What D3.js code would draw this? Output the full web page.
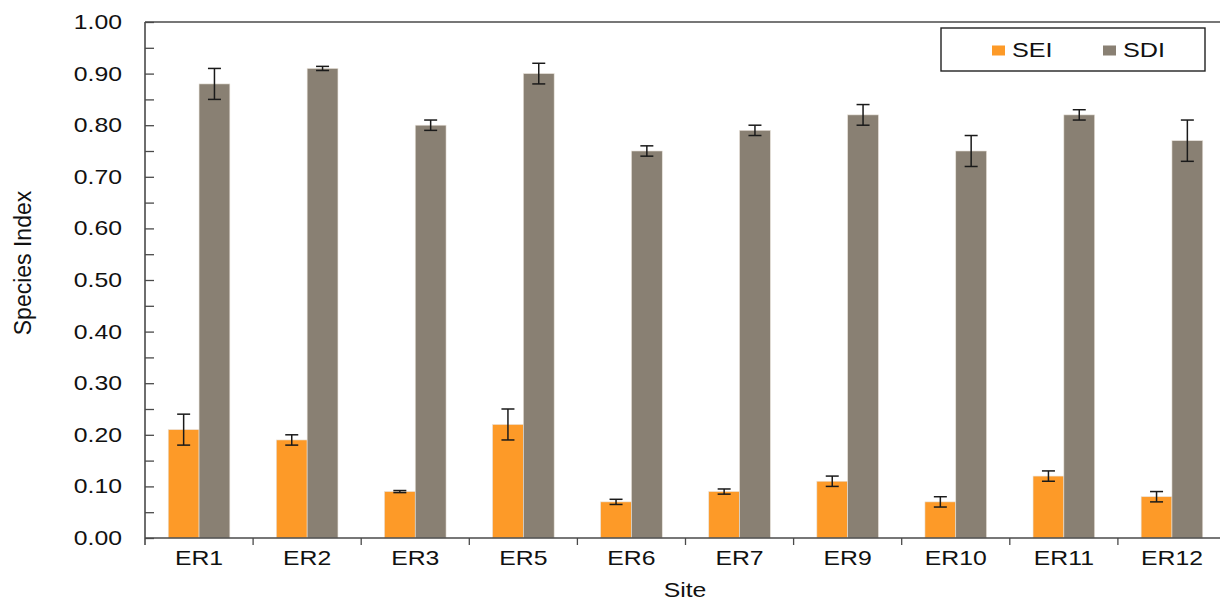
<!DOCTYPE html>
<html>
<head>
<meta charset="utf-8">
<script src="https://cdn.jsdelivr.net/npm/d3@7"></script>
<style>
  body { margin: 0; background: #fff; }
  svg { display: block; font-family: "Liberation Sans", Arial, sans-serif; }
</style>
</head>
<body>
<div id="chart"></div>
<script>
// data
const sites = ["ER1", "ER2", "ER3", "ER5", "ER6", "ER7", "ER9", "ER10", "ER11", "ER12"];
const seiValues = [0.21, 0.19, 0.09, 0.22, 0.07, 0.09, 0.11, 0.07, 0.12, 0.08];
const seiErrors = [0.03, 0.01, 0.002, 0.03, 0.005, 0.005, 0.01, 0.01, 0.01, 0.01];
const sdiValues = [0.88, 0.91, 0.80, 0.90, 0.75, 0.79, 0.82, 0.75, 0.82, 0.77];
const sdiErrors = [0.03, 0.004, 0.01, 0.02, 0.01, 0.01, 0.02, 0.03, 0.01, 0.04];
const yTicks = [0, 0.1, 0.2, 0.3, 0.4, 0.5, 0.6, 0.7, 0.8, 0.9, 1.0];
const seriesNames = ["SEI", "SDI"];

const width = 1220, height = 601;
const margin = { top: 22, right: -6, bottom: 63, left: 145 };
const stretch = 1.24; // text in the reference is drawn a bit wide

const colors = { SEI: "#fd9a28", SDI: "#898073" };
const axisColor = "#4a4a4a";
const textColor = "#111";

const svg = d3.select("#chart").append("svg")
  .attr("width", width)
  .attr("height", height);

const x = d3.scaleBand()
  .domain(sites)
  .range([margin.left, width - margin.right])
  .padding(0);

const y = d3.scaleLinear()
  .domain([0, 1])
  .range([height - margin.bottom, margin.top]);

const barW = x.bandwidth() * 0.285;

const rows = sites.map((s, i) => ({
  site: s,
  SEI: { v: seiValues[i], e: seiErrors[i] },
  SDI: { v: sdiValues[i], e: sdiErrors[i] },
}));

// bars
const g = svg.append("g");
seriesNames.forEach((name, k) => {
  g.selectAll(`.bar-${name}`)
    .data(rows)
    .join("rect")
    .attr("class", `bar-${name}`)
    .attr("x", (d) => x(d.site) + x.bandwidth() / 2 - barW + k * barW)
    .attr("width", barW)
    .attr("y", (d) => y(d[name].v))
    .attr("height", (d) => y(0) - y(d[name].v))
    .attr("fill", colors[name])
    .attr("stroke", "#e8e2da")
    .attr("stroke-width", 0.6);
});

// error bars
const cap = 6.5;
seriesNames.forEach((name, k) => {
  const cx = (d) => x(d.site) + x.bandwidth() / 2 - barW / 2 + k * barW;
  const eg = g.selectAll(`.err-${name}`)
    .data(rows)
    .join("g")
    .attr("class", `err-${name}`)
    .attr("stroke", "#1a1a1a")
    .attr("stroke-width", 1.5);
  eg.append("line")
    .attr("x1", cx).attr("x2", cx)
    .attr("y1", (d) => y(d[name].v + d[name].e))
    .attr("y2", (d) => y(d[name].v - d[name].e));
  eg.append("line")
    .attr("x1", (d) => cx(d) - cap).attr("x2", (d) => cx(d) + cap)
    .attr("y1", (d) => y(d[name].v + d[name].e))
    .attr("y2", (d) => y(d[name].v + d[name].e));
  eg.append("line")
    .attr("x1", (d) => cx(d) - cap).attr("x2", (d) => cx(d) + cap)
    .attr("y1", (d) => y(d[name].v - d[name].e))
    .attr("y2", (d) => y(d[name].v - d[name].e));
});

// y axis: ticks inside, minor ticks at halves
const yAxis = d3.axisLeft(y)
  .tickValues(d3.range(0, 1.0001, 0.05))
  .tickSize(-9)
  .tickFormat("");
const ya = svg.append("g")
  .attr("transform", `translate(${margin.left},0)`)
  .call(yAxis);
ya.select(".domain").remove();
ya.selectAll("line").attr("stroke", axisColor).attr("stroke-width", 1.3);

svg.append("line")
  .attr("x1", margin.left).attr("x2", margin.left)
  .attr("y1", margin.top).attr("y2", y(0) + 7)
  .attr("stroke", axisColor).attr("stroke-width", 1.6);

// top frame
svg.append("line")
  .attr("x1", margin.left).attr("x2", width)
  .attr("y1", margin.top).attr("y2", margin.top)
  .attr("stroke", axisColor).attr("stroke-width", 1.3);

svg.append("g")
  .selectAll("text")
  .data(yTicks)
  .join("text")
  .attr("transform", (d) => `translate(122,${y(d) + 7}) scale(${stretch},1)`)
  .attr("text-anchor", "end")
  .attr("font-size", 20)
  .attr("fill", textColor)
  .text((d) => d.toFixed(2));

// x axis
svg.append("line")
  .attr("x1", margin.left).attr("x2", width)
  .attr("y1", y(0)).attr("y2", y(0))
  .attr("stroke", axisColor).attr("stroke-width", 1.6);

svg.append("g")
  .selectAll("line")
  .data(sites.slice(1))
  .join("line")
  .attr("x1", (d) => x(d)).attr("x2", (d) => x(d))
  .attr("y1", y(0)).attr("y2", y(0) + 7)
  .attr("stroke", axisColor).attr("stroke-width", 1.3);

svg.append("g")
  .selectAll("text")
  .data(sites)
  .join("text")
  .attr("transform", (d) => `translate(${x(d) + x.bandwidth() / 2},565) scale(${stretch},1)`)
  .attr("text-anchor", "middle")
  .attr("font-size", 20)
  .attr("fill", textColor)
  .text((d) => d);

// axis titles
svg.append("text")
  .attr("transform", `translate(685,597) scale(${stretch},1)`)
  .attr("text-anchor", "middle")
  .attr("font-size", 20)
  .attr("fill", textColor)
  .text("Site");

svg.append("text")
  .attr("transform", `translate(31,263) rotate(-90)`)
  .attr("text-anchor", "middle")
  .attr("font-size", 23)
  .attr("fill", textColor)
  .text("Species Index");

// legend
const legend = svg.append("g");
legend.append("rect")
  .attr("x", 941).attr("y", 28)
  .attr("width", 264).attr("height", 43)
  .attr("fill", "#fff")
  .attr("stroke", "#222").attr("stroke-width", 1.4);

const legendX = [992, 1103];
seriesNames.forEach((name, i) => {
  legend.append("rect")
    .attr("x", legendX[i]).attr("y", 45.5)
    .attr("width", 13).attr("height", 10)
    .attr("fill", colors[name]);
  legend.append("text")
    .attr("transform", `translate(${legendX[i] + 20},57) scale(1.2,1)`)
    .attr("font-size", 21)
    .attr("fill", textColor)
    .text(name);
});
</script>
</body>
</html>
